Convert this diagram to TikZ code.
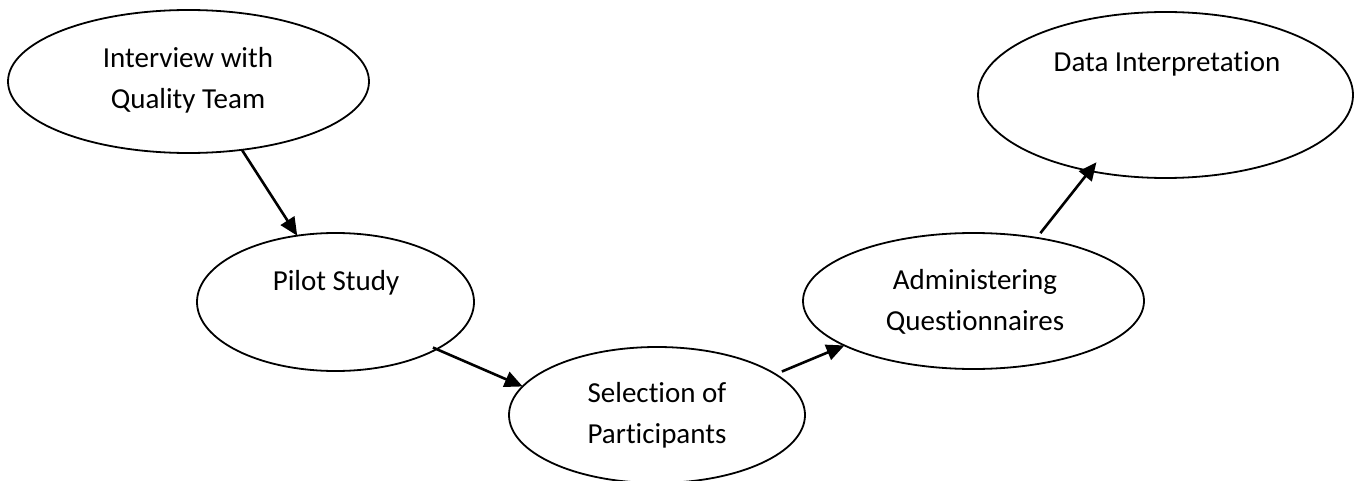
\documentclass[tikz,border=0pt]{standalone}
\usepackage{fontspec}
\setmainfont[Ligatures=NoCommon]{Carlito}
\usetikzlibrary{shapes.geometric,arrows.meta}
\begin{document}
\begin{tikzpicture}[x=1pt,y=-1pt,
  stage/.style={draw=black,line width=1.8pt,ellipse,inner sep=0pt,outer sep=0pt},
  lbl/.style={inner sep=0pt,align=center,anchor=base,font=\fontsize{29}{41}\selectfont},
  arr/.style={line width=2.6pt,-{Triangle[length=18pt,width=16pt]}}]
\clip (0,0) rectangle (1359,481);
\fill[white] (0,0) rectangle (1359,481);
% ellipses
\node[stage,minimum width=361pt,minimum height=143pt] (e1) at (188.5,81.5) {};
\node[stage,minimum width=277pt,minimum height=138pt] (e2) at (335.5,302) {};
\node[stage,minimum width=296pt,minimum height=136pt] (e3) at (657,415) {};
\node[stage,minimum width=341pt,minimum height=136pt] (e4) at (973.5,301) {};
\node[stage,minimum width=375pt,minimum height=166pt] (e5) at (1165.5,95) {};
% texts (base = baseline of the last line)
\node[lbl] (t1) at (188,109) {Interview with\\Quality Team};
\node[lbl] (t2) at (336,290) {Pilot Study};
\node[lbl] (t3) at (657,443) {Selection of\\Participants};
\node[lbl] (t4) at (975,330) {Administering\\Questionnaires};
\node[lbl] (t5) at (1167,72) {Data Interpretation};
% connectors
\draw[arr] (e1.-52) -- (e2.120);
\draw[arr,shorten <=-4pt] (e2.-25) -- (e3.168);
\draw[arr,shorten <=7pt] (e3.19) -- (e4.199);
\draw[arr,shorten <=6pt,shorten >=-11pt] (e4.45) -- (e5.-135);
\end{tikzpicture}
\end{document}
